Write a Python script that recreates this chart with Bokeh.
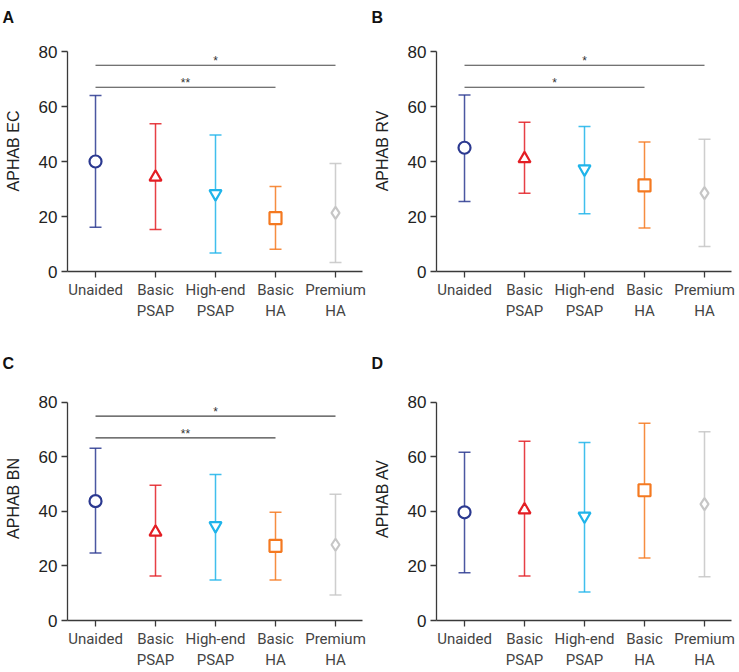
from bokeh.plotting import figure
from bokeh.layouts import gridplot
from bokeh.models import Range1d, FixedTicker, ColumnDataSource
from bokeh.core.properties import value
from bokeh.embed import file_html
from bokeh.resources import INLINE

groups = ["Unaided", "Basic\nPSAP", "High-end\nPSAP", "Basic\nHA", "Premium\nHA"]
colors = ["#2b3990", "#e31e24", "#1fb4ea", "#f47920", "#c6c6c6"]
markers = ["circle", "triangle", "inverted_triangle", "square", "diamond"]
pos = [0, 1, 2, 3, 4]

ec_mean = [40.0, 34.3, 28.3, 19.4, 21.3]
ec_upper = [64.0, 53.7, 49.6, 30.9, 39.3]
ec_lower = [16.1, 15.3, 6.7, 8.1, 3.3]

rv_mean = [45.0, 41.0, 37.3, 31.3, 28.5]
rv_upper = [64.2, 54.3, 52.7, 47.1, 48.1]
rv_lower = [25.5, 28.5, 21.0, 15.8, 9.1]

bn_mean = [43.8, 32.4, 34.8, 27.4, 27.8]
bn_upper = [63.2, 49.6, 53.6, 39.7, 46.3]
bn_lower = [24.8, 16.3, 14.9, 14.9, 9.4]

av_mean = [39.7, 40.6, 38.3, 47.8, 42.7]
av_upper = [61.7, 65.8, 65.3, 72.4, 69.3]
av_lower = [17.5, 16.3, 10.5, 22.9, 16.1]

# significance brackets: start group, end group, height, label
ec_sig_from = [0, 0]
ec_sig_to = [4, 3]
ec_sig_y = [75, 67]
ec_sig_text = ["*", "**"]

rv_sig_from = [0, 0]
rv_sig_to = [4, 3]
rv_sig_y = [75, 67]
rv_sig_text = ["*", "*"]

bn_sig_from = [0, 0]
bn_sig_to = [4, 3]
bn_sig_y = [75, 67]
bn_sig_text = ["*", "**"]

y_ticks = [0, 20, 40, 60, 80]
y_axis_max = 80

AX = "#3a3a3a"
X0, X1 = -0.467, 4.45


def make_panel(letter, ylabel, mean, upper, lower, sig_from, sig_to, sig_y, sig_text,
               height, y_top, bottom_border):
    p = figure(width=369, height=height, output_backend="svg", toolbar_location=None,
               x_range=Range1d(X0, X1), y_range=Range1d(0, y_top),
               min_border_left=67, min_border_right=7,
               min_border_top=30, min_border_bottom=bottom_border,
               title=letter)
    p.title.align = "left"
    p.title.vertical_align = "top"
    p.title.standoff = 6
    p.title.offset = -65
    p.title.text_font = "Liberation Sans"
    p.title.text_font_size = "16px"
    p.title.text_font_style = "bold"
    p.title.text_color = "#111111"
    p.outline_line_color = None
    p.grid.grid_line_color = None
    p.background_fill_color = "white"

    src = ColumnDataSource(dict(x=pos, mean=mean, upper=upper, lower=lower,
                                color=colors, marker=markers))
    p.segment(x0="x", y0="lower", x1="x", y1="upper", source=src,
              line_color="color", line_width=1.5, line_alpha=0.85)
    p.scatter(x="x", y="upper", source=src, marker="dash", size=12,
              line_color="color", line_width=1.5, line_alpha=0.85)
    p.scatter(x="x", y="lower", source=src, marker="dash", size=12,
              line_color="color", line_width=1.5, line_alpha=0.85)
    p.scatter(x="x", y="mean", source=src, marker="marker", size=12,
              fill_color="white", line_color="color", line_width=2.2)

    if sig_from:
        mids = [(a + b) / 2 for a, b in zip(sig_from, sig_to)]
        ssrc = ColumnDataSource(dict(x0=sig_from, x1=sig_to, y=sig_y, xm=mids, t=sig_text))
        p.segment(x0="x0", y0="y", x1="x1", y1="y", source=ssrc,
                  line_color="#444444", line_width=1.2)
        p.text(x="xm", y="y", text="t", source=ssrc, text_align="center",
               text_baseline="bottom", y_offset=3, text_font_size="12px",
               text_color="#333333", text_font=value("Liberation Sans"))

    p.yaxis.ticker = FixedTicker(ticks=y_ticks)
    p.yaxis.bounds = (0, y_axis_max)
    p.xaxis.ticker = FixedTicker(ticks=pos)
    p.xaxis.major_label_overrides = {i: g for i, g in zip(pos, groups)}
    for ax in (p.xaxis[0], p.yaxis[0]):
        ax.axis_line_color = AX
        ax.axis_line_width = 1.3
        ax.major_tick_line_color = AX
        ax.major_tick_line_width = 1.3
        ax.major_tick_out = 6
        ax.major_tick_in = 0
        ax.minor_tick_line_color = None
    p.yaxis.major_label_text_font = "Liberation Sans"
    p.yaxis.major_label_text_font_size = "17px"
    p.yaxis.major_label_text_color = "#222222"
    p.yaxis.major_label_standoff = 4
    p.yaxis.axis_label = ylabel
    p.yaxis.axis_label_text_font = "Liberation Sans"
    p.yaxis.axis_label_text_font_size = "16px"
    p.yaxis.axis_label_text_font_style = "normal"
    p.yaxis.axis_label_text_color = "#222222"
    p.yaxis.axis_label_standoff = 14
    p.xaxis.major_label_text_font = "Roboto"
    p.xaxis.major_label_text_font_size = "15px"
    p.xaxis.major_label_text_color = "#444444"
    p.xaxis.major_label_standoff = 3
    return p


pA = make_panel("A", "APHAB EC", ec_mean, ec_upper, ec_lower,
                ec_sig_from, ec_sig_to, ec_sig_y, ec_sig_text, 346, 87.64, 75)
pB = make_panel("B", "APHAB RV", rv_mean, rv_upper, rv_lower,
                rv_sig_from, rv_sig_to, rv_sig_y, rv_sig_text, 346, 87.64, 75)
pC = make_panel("C", "APHAB BN", bn_mean, bn_upper, bn_lower,
                bn_sig_from, bn_sig_to, bn_sig_y, bn_sig_text, 326, 89.54, 52)
pD = make_panel("D", "APHAB AV", av_mean, av_upper, av_lower,
                [], [], [], [], 326, 89.54, 52)

grid = gridplot([[pA, pB], [pC, pD]], toolbar_location=None)

open("out.html", "w").write(file_html(grid, INLINE))
